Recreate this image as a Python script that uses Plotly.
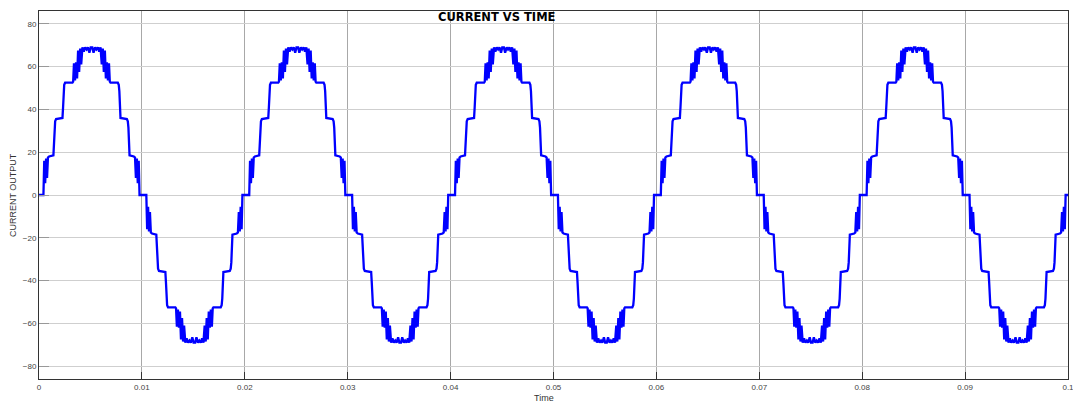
import numpy as np
import plotly.graph_objects as go

# Positive half-cycle of the staircase current.
# Times in ms, measured from the centre of the zero step; the half-cycle is mirrored about its middle.
quarter_t_ms = [0.00, 0.33, 0.41, 0.50, 0.59, 0.68, 0.77, 0.88, 1.30, 1.36, 1.41,
                1.47, 1.56, 2.18, 2.24, 2.29, 2.35, 2.44, 3.15, 3.22, 3.30, 3.40, 3.50, 3.60,
                3.70, 3.80, 3.90, 4.00, 4.12, 4.25, 4.38, 4.52, 4.65, 4.80, 4.92, 5.00]
quarter_v = [0.0, 0.0, 16.0, 5.5, 17.0, 8.0, 17.5, 18.0, 18.5, 24.0, 31.5,
             34.5, 35.5, 36.0, 41.0, 48.5, 51.5, 52.5, 52.5, 53.0, 61.5, 53.5, 62.0, 54.5,
             67.5, 57.5, 68.5, 61.0, 69.0, 67.0, 69.0, 68.0, 69.0, 66.5, 69.0, 69.0]
half_period_ms = 10.0
phase_ms = 0.10          # zero-step centre offset seen on the time axis
n_cycles = 5
time_ticks = [0, 0.01, 0.02, 0.03, 0.04, 0.05, 0.06, 0.07, 0.08, 0.09, 0.1]
time_labels = ["0", "0.01", "0.02", "0.03", "0.04", "0.05", "0.06", "0.07", "0.08", "0.09", "0.1"]
current_ticks = [-80, -60, -40, -20, 0, 20, 40, 60, 80]

q_t = np.array(quarter_t_ms)
q_v = np.array(quarter_v)
half_t = np.concatenate([q_t, half_period_ms - q_t[::-1][1:]])
half_v = np.concatenate([q_v, q_v[::-1][1:]])

ts, vs = [], []
for k in range(-1, 2 * n_cycles + 1):
    sign = 1 if k % 2 == 0 else -1
    ts.append(half_t + k * half_period_ms + phase_ms)
    vs.append(sign * half_v)
t = np.concatenate(ts) / 1000.0
v = np.concatenate(vs)
mask = (t >= -0.0005) & (t <= 0.1005)
t, v = t[mask], v[mask]

fig = go.Figure()
fig.add_trace(go.Scatter(x=t, y=v, mode="lines",
                         line=dict(color="#0000ff", width=2.3), showlegend=False))

font_family = "Liberation Sans, Arial, sans-serif"
axis_font = dict(family=font_family, size=8, color="#444444")
fig.update_layout(
    width=1073, height=406,
    margin=dict(l=39, r=5, t=11, b=27),
    paper_bgcolor="white", plot_bgcolor="white",
    xaxis=dict(range=[0, 0.1], tickvals=time_ticks, ticktext=time_labels, automargin=False,
               ticklabeloverflow="allow",
               showgrid=True, gridcolor="#a8a8a8", gridwidth=1,
               zeroline=False, showline=True, linecolor="#333333", linewidth=1,
               mirror=True, ticks="inside", ticklen=7, tickcolor="#333333",
               tickfont=axis_font),
    yaxis=dict(range=[-86, 86], tickvals=current_ticks, automargin=False,
               showgrid=True, gridcolor="#cfcfcf", gridwidth=1,
               zeroline=False, showline=True, linecolor="#333333", linewidth=1,
               mirror=True, ticks="inside", ticklen=10, tickcolor="#999999",
               tickfont=axis_font),
    annotations=[
        dict(text="<b>CURRENT VS TIME</b>", xref="paper", yref="paper",
             x=0.445, y=0.984, xanchor="center", yanchor="middle", showarrow=False,
             font=dict(family="DejaVu Sans, Verdana, sans-serif", size=11.5, color="black")),
        dict(text="Time", xref="paper", yref="paper", x=0.4905, y=-0.0516,
             xanchor="center", yanchor="middle", showarrow=False,
             font=dict(family=font_family, size=9, color="#333333")),
        dict(text="CURRENT OUTPUT", xref="paper", yref="paper", x=-0.0185, y=0.5,
             xanchor="right", yanchor="middle", showarrow=False, textangle=-90,
             font=dict(family=font_family, size=9, color="#333333")),
    ],
)
fig.write_html("out.html", config={"displayModeBar": False},
               post_script="document.body.style.margin='0px';")
